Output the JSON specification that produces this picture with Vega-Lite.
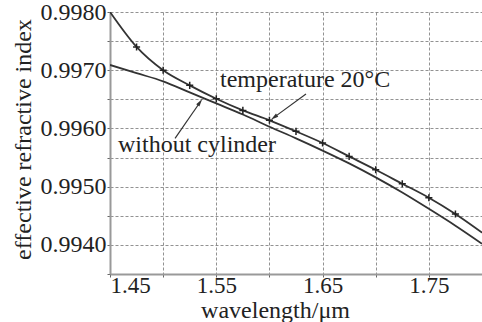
{
  "$schema": "https://vega.github.io/schema/vega-lite/v6.json",
  "width": 372,
  "height": 262,
  "autosize": {"type": "none"},
  "padding": {"left": 110, "top": 12, "right": 0, "bottom": 48},
  "background": "white",
  "config": {
    "view": {"stroke": null},
    "font": "Liberation Serif",
    "axis": {
      "labelFont": "Liberation Serif",
      "titleFont": "Liberation Serif",
      "labelFontSize": 23,
      "titleFontSize": 24,
      "titleFontWeight": "normal",
      "labelColor": "#222",
      "titleColor": "#222",
      "domainColor": "#999",
      "domainWidth": 2,
      "tickColor": "#666",
      "tickSize": 3,
      "gridColor": "#777",
      "gridDash": [3, 2],
      "gridWidth": 1,
      "gridOpacity": 0.8,
      "labelOverlap": false
    }
  },
  "datasets": {
    "curves": [
      {"series": "temp", "wl": 1.45, "n": 0.99800, "marker": false},
      {"series": "temp", "wl": 1.475, "n": 0.99740, "marker": true},
      {"series": "temp", "wl": 1.50, "n": 0.99700, "marker": true},
      {"series": "temp", "wl": 1.525, "n": 0.99674, "marker": true},
      {"series": "temp", "wl": 1.55, "n": 0.99651, "marker": true},
      {"series": "temp", "wl": 1.575, "n": 0.99631, "marker": true},
      {"series": "temp", "wl": 1.60, "n": 0.99614, "marker": true},
      {"series": "temp", "wl": 1.625, "n": 0.99595, "marker": true},
      {"series": "temp", "wl": 1.65, "n": 0.99575, "marker": true},
      {"series": "temp", "wl": 1.675, "n": 0.99552, "marker": true},
      {"series": "temp", "wl": 1.70, "n": 0.99529, "marker": true},
      {"series": "temp", "wl": 1.725, "n": 0.99505, "marker": true},
      {"series": "temp", "wl": 1.75, "n": 0.99481, "marker": true},
      {"series": "temp", "wl": 1.775, "n": 0.99453, "marker": true},
      {"series": "temp", "wl": 1.80, "n": 0.99421, "marker": false},
      {"series": "nocyl", "wl": 1.45, "n": 0.99709, "marker": false},
      {"series": "nocyl", "wl": 1.475, "n": 0.99695, "marker": false},
      {"series": "nocyl", "wl": 1.50, "n": 0.99681, "marker": false},
      {"series": "nocyl", "wl": 1.525, "n": 0.99662, "marker": false},
      {"series": "nocyl", "wl": 1.55, "n": 0.99643, "marker": false},
      {"series": "nocyl", "wl": 1.575, "n": 0.99624, "marker": false},
      {"series": "nocyl", "wl": 1.60, "n": 0.99603, "marker": false},
      {"series": "nocyl", "wl": 1.625, "n": 0.99583, "marker": false},
      {"series": "nocyl", "wl": 1.65, "n": 0.99562, "marker": false},
      {"series": "nocyl", "wl": 1.675, "n": 0.99540, "marker": false},
      {"series": "nocyl", "wl": 1.70, "n": 0.99516, "marker": false},
      {"series": "nocyl", "wl": 1.725, "n": 0.99490, "marker": false},
      {"series": "nocyl", "wl": 1.75, "n": 0.99462, "marker": false},
      {"series": "nocyl", "wl": 1.775, "n": 0.99433, "marker": false},
      {"series": "nocyl", "wl": 1.80, "n": 0.99402, "marker": false}
    ],
    "arrows": [
      {"name": "temp", "x1": 1.6344, "y1": 0.99659, "x2": 1.6043, "y2": 0.99619, "angle": 234},
      {"name": "nocyl", "x1": 1.5112, "y1": 0.99583, "x2": 1.5347, "y2": 0.99645, "angle": 35}
    ],
    "labels": [
      {"text": "temperature 20°C", "x": 1.5535, "y": 0.99671},
      {"text": "without cylinder", "x": 1.4575, "y": 0.99559}
    ]
  },
  "layer": [
    {
      "data": {"name": "curves"},
      "mark": {"type": "line", "interpolate": "monotone", "color": "#333", "strokeWidth": 1.8, "clip": true},
      "encoding": {
        "x": {
          "field": "wl", "type": "quantitative",
          "scale": {"domain": [1.45, 1.80], "nice": false, "zero": false},
          "axis": {
            "title": "wavelength/μm",
            "tickCount": 7,
            "labelExpr": "round(datum.value*100) % 10 == 5 ? format(datum.value, '.2f') : ''",
            "labelPadding": -3,
            "titleX": 165,
            "titleY": 43,
            "titleBaseline": "alphabetic",
            "titleAlign": "center",
            "titleAnchor": null
          }
        },
        "y": {
          "field": "n", "type": "quantitative",
          "scale": {"domain": [0.9935, 0.998], "nice": false, "zero": false},
          "axis": {
            "title": "effective refractive index",
            "tickCount": 9,
            "labelFontSize": 24,
            "labelExpr": "round(datum.value*10000) % 10 == 0 ? format(datum.value, '.4f') : ''",
            "labelPadding": 1,
            "titleX": -87,
            "titleY": 127,
            "titleAngle": -90,
            "titleBaseline": "middle",
            "titleAlign": "center"
          }
        },
        "detail": {"field": "series", "type": "nominal"}
      }
    },
    {
      "data": {"name": "curves"},
      "transform": [{"filter": "datum.marker"}],
      "mark": {"type": "point", "shape": "M-1,0L1,0M0,-1L0,1", "size": 50, "filled": false, "stroke": "#222", "strokeWidth": 1.5, "opacity": 1},
      "encoding": {
        "x": {"field": "wl", "type": "quantitative"},
        "y": {"field": "n", "type": "quantitative"}
      }
    },
    {
      "data": {"name": "arrows"},
      "mark": {"type": "rule", "color": "#333", "strokeWidth": 1.2},
      "encoding": {
        "x": {"field": "x1", "type": "quantitative"},
        "y": {"field": "y1", "type": "quantitative"},
        "x2": {"field": "x2"},
        "y2": {"field": "y2"}
      }
    },
    {
      "data": {"name": "arrows"},
      "mark": {"type": "point", "shape": "M0,-1L0.5,1L-0.5,1Z", "filled": true, "color": "#333", "size": 60, "opacity": 1},
      "encoding": {
        "x": {"field": "x2", "type": "quantitative"},
        "y": {"field": "y2", "type": "quantitative"},
        "angle": {"field": "angle", "type": "quantitative", "scale": null}
      }
    },
    {
      "data": {"name": "labels"},
      "mark": {"type": "text", "font": "Liberation Serif", "fontSize": 24, "align": "left", "baseline": "alphabetic", "color": "#222"},
      "encoding": {
        "x": {"field": "x", "type": "quantitative"},
        "y": {"field": "y", "type": "quantitative"},
        "text": {"field": "text"}
      }
    }
  ]
}
